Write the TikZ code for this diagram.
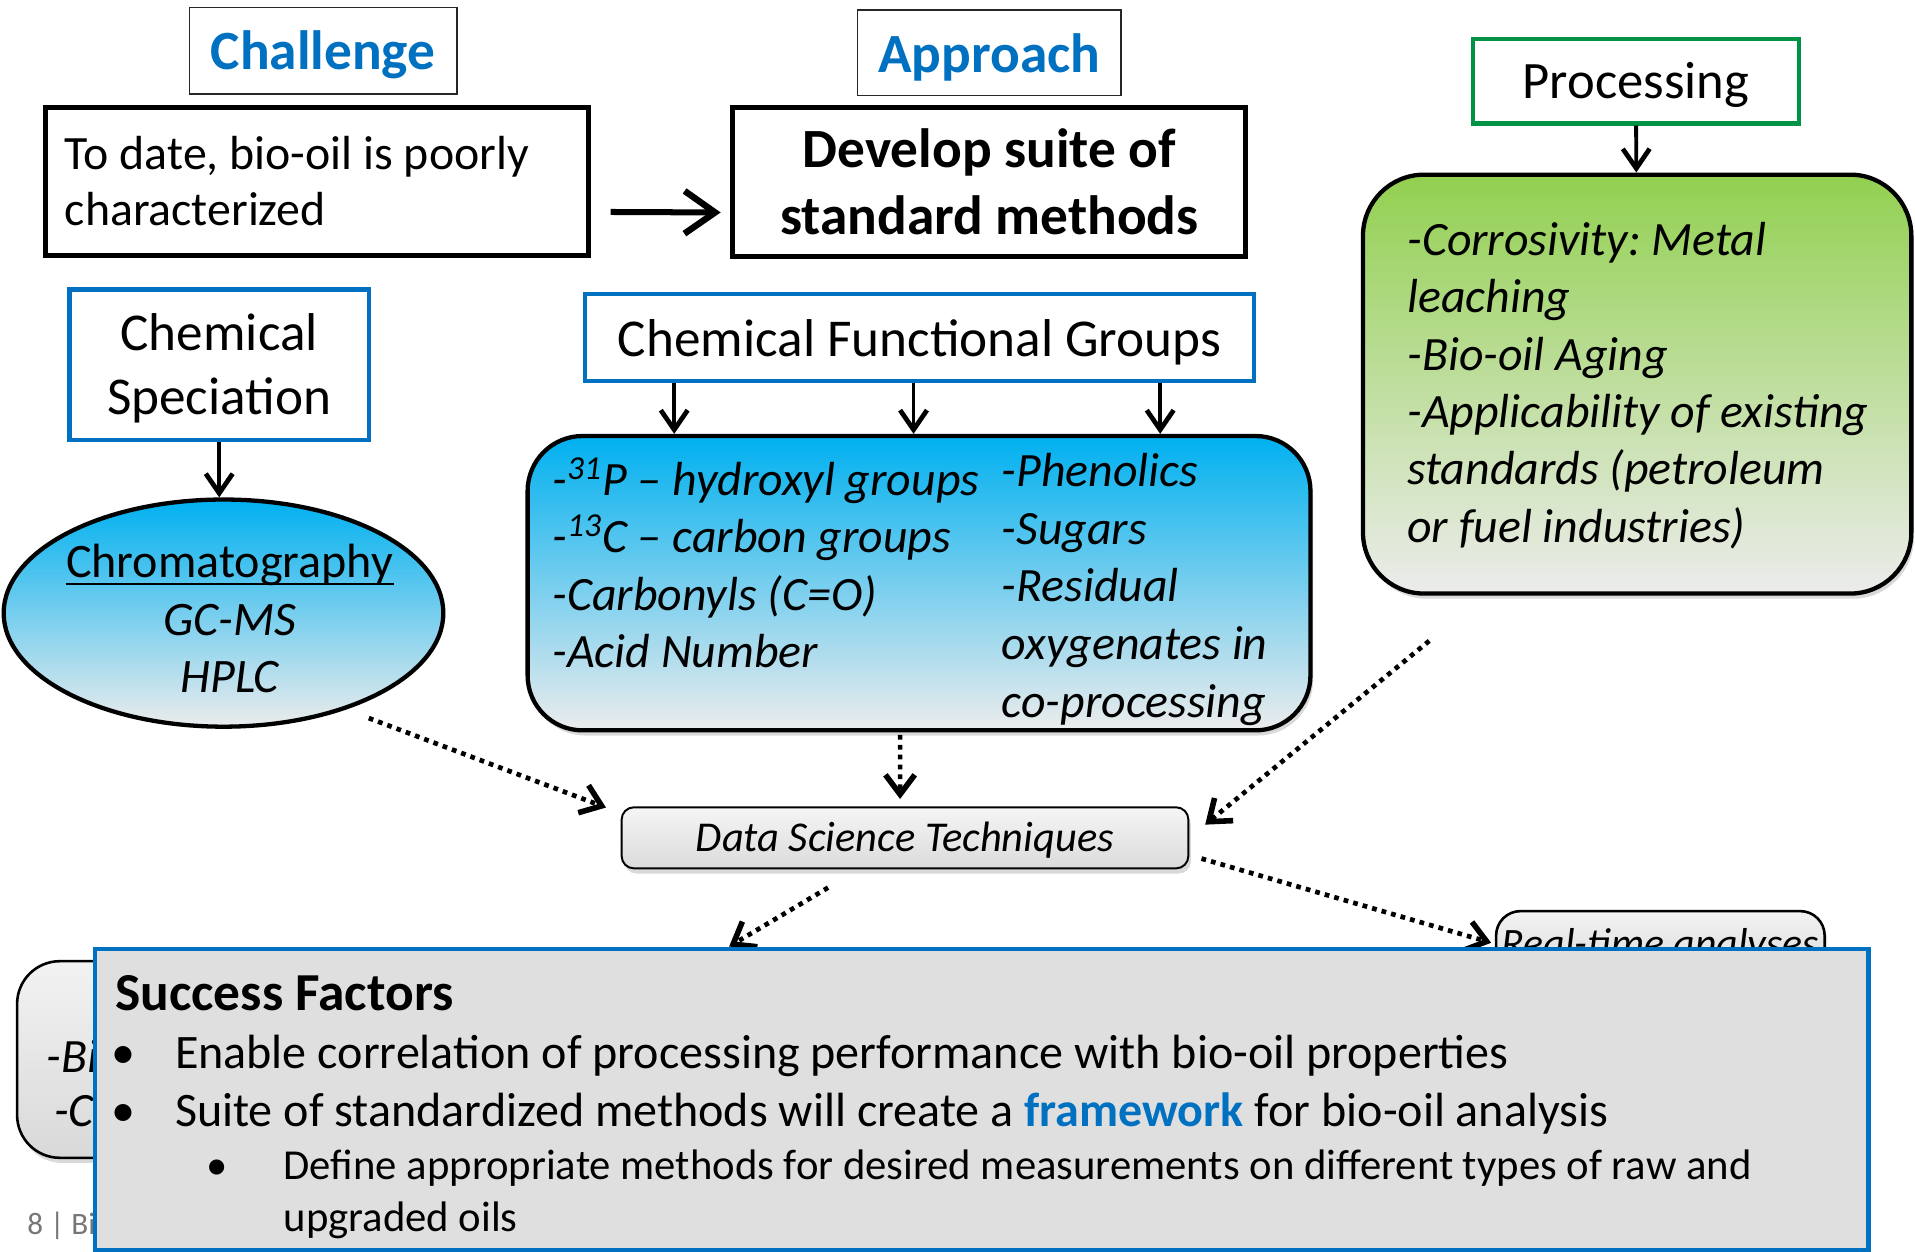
\documentclass[tikz,border=0pt]{standalone}
\usepackage{fontspec}
\setmainfont{Carlito}
\usetikzlibrary{arrows.meta,shapes.geometric,shadows}
\frenchspacing

\definecolor{hdblue}{RGB}{0,112,192}
\definecolor{procgreen}{RGB}{0,146,69}
\definecolor{skyblue}{RGB}{0,176,240}
\definecolor{leafgreen}{RGB}{146,208,80}
\definecolor{paleend}{RGB}{236,236,236}
\definecolor{sfgray}{RGB}{223,223,223}
\definecolor{footgray}{RGB}{118,118,118}

\tikzset{
  boxsize/.style 2 args={minimum width=#1*0.02cm, minimum height=#2*0.02cm, inner sep=0pt},
  headbox/.style={draw=black!85, line width=0.7pt, text=hdblue, text height=0.63cm, text depth=0pt,
    font=\fontsize{25.8}{30}\selectfont\bfseries},
  blackbox/.style={draw, line width=2.2pt},
  bluebox/.style={draw=hdblue, line width=2pt, align=center,
    font=\fontsize{24.8}{29.5}\selectfont},
  softshadow/.style={drop shadow={opacity=0.3, shadow xshift=1.2pt, shadow yshift=-2.4pt}},
  roundbox/.style={draw, line width=2pt, rounded corners=#1, softshadow},
  greybox/.style={roundbox=#1, line width=1.2pt, top color=gray!10, bottom color=gray!30},
  listline/.style={anchor=base west, inner sep=0pt, font=\fontsize{22.3}{26}\selectfont\itshape},
  sfline/.style={anchor=base west, inner sep=0pt, font=\fontsize{#1}{26}\selectfont},
  smallarr/.style={-{Straight Barb[length=0.32cm,width=0.44cm,line width=2.2pt]}, line width=1.8pt},
  bigarr/.style={-{Straight Barb[length=0.5cm,width=0.7cm,line width=3pt]}, line width=2.8pt},
  dotarr/.style={-{Straight Barb[length=0.32cm,width=0.48cm,line width=2.6pt]}, line width=2.2pt,
    dash pattern=on 2.2pt off 2.4pt},
}

\begin{document}
\begin{tikzpicture}[x=0.02cm, y=-0.02cm]
\useasboundingbox (0,0) rectangle (1568,1025);

% challenge and approach
\node[headbox, boxsize={219}{71}] (chal) at (264.5,41.5) {Challenge};
\node[headbox, boxsize={216}{70}, text height=0.66cm] (appr) at (810,43) {Approach};
\node[blackbox, boxsize={445}{121}, inner xsep=0.32cm, text width=8.26cm, align=flush left,
  font=\fontsize{22.3}{26}\selectfont] (todate) at (259.5,148.5)
  {To date, bio-oil is poorly\\characterized};
\node[blackbox, boxsize={420}{122}, align=center,
  font=\fontsize{25.8}{31.2}\selectfont\bfseries] (dev) at (810,149)
  {Develop suite of\\standard methods};
\draw[bigarr, shorten <=0.32cm, shorten >=0.16cm]
  ([yshift=-0.5cm]todate.east) -- ([yshift=-0.5cm]dev.west);

% processing
\node[draw=procgreen, line width=2pt, boxsize={267}{69}, text height=0.58cm, text depth=0pt,
  font=\fontsize{24.5}{29}\selectfont] (proc) at (1339.5,66.5) {Processing};
\node[roundbox=1cm, boxsize={449}{343}, top color=leafgreen, bottom color=paleend]
  (procbox) at (1340.5,314.5) {};
\foreach \entry [count=\i] in {{-Corrosivity: Metal},{leaching},{-Bio-oil Aging},
    {-Applicability of existing},{standards (petroleum},{or fuel industries)}}
  \node[listline] (pl\i) at (1152,{209+47*(\i-1)}) {\entry};
\draw[smallarr] (proc) -- (procbox);

% chemical speciation
\node[draw=hdblue, line width=2pt, boxsize={245}{123}] (cs) at (179.5,298.5) {};
\node[bluebox, draw=none, inner sep=0pt] (cstext) at (179.5,301.5) {Chemical\\Speciation};
\node[ellipse, draw, line width=2pt, boxsize={360}{186}, top color=skyblue,
  bottom color=paleend] (chrom) at (183,502) {};
\node[anchor=base, inner sep=0pt, font=\fontsize{22.4}{26}\selectfont] (chr1) at (188,473) {Chromatography};
\draw[line width=0.9pt] ([yshift=-0.1cm]chr1.base west) -- ([yshift=-0.1cm]chr1.base east);
\node[anchor=base, inner sep=0pt, font=\fontsize{22.4}{26}\selectfont\itshape] (chr2) at (188,520) {GC-MS};
\node[anchor=base, inner sep=0pt, font=\fontsize{22.4}{26}\selectfont\itshape] (chr3) at (188,567) {HPLC};
\draw[smallarr] (cs) -- (cs |- chrom.north);

% functional groups
\node[bluebox, boxsize={548}{71}, text height=0.62cm, text depth=0pt] (cfg) at (753,276.5)
  {Chemical Functional Groups};
\node[roundbox=0.9cm, boxsize={641}{241}, top color=skyblue, bottom color=paleend]
  (fg) at (752.5,477.5) {};
\foreach \entry [count=\i] in {{-\textsuperscript{31}P -- hydroxyl groups},
    {-\textsuperscript{13}C -- carbon groups},{-Carbonyls (C=O)},{-Acid Number}}
  \node[listline] (fl\i) at (452,{405.5+47*(\i-1)}) {\entry};
\foreach \entry [count=\i] in {{-Phenolics},{-Sugars},{-Residual},{oxygenates in},{co-processing}}
  \node[listline] (fr\i) at (820,{398.5+47.2*(\i-1)}) {\entry};
\foreach \dx in {-4.02,-0.1,3.94}
  \draw[smallarr] ([xshift=\dx cm]cfg.south) -- ([xshift=\dx cm]cfg.south |- fg.north);

% data science
\node[roundbox=0.2cm, line width=0.9pt, boxsize={464}{50}, top color=gray!8,
  bottom color=gray!28, text height=0.46cm, text depth=0pt,
  font=\fontsize{19.8}{23}\selectfont\itshape] (dst) at (741,686)
  {Data Science Techniques};
\node[greybox=0.7cm, boxsize={316}{161}] (leftbox) at (172,867.5) {};
\node[listline] (lb1) at (38,878) {-Bi};
\node[listline] (lb2) at (44,922) {-C};
\node[greybox=0.4cm, boxsize={269}{58}, font=\fontsize{19.5}{23}\selectfont\itshape]
  (rta) at (1359.5,775) {Real-time analyses};
\node[anchor=base west, inner sep=0pt, text=footgray, font=\fontsize{14.5}{17}\selectfont]
  (foot) at (22,1011) {8 | Bi};
\coordinate (lowmid) at (597,775);

\draw[dotarr] ([xshift=2.38cm,yshift=-1.72cm]chrom.center) -- ([xshift=-0.24cm,yshift=-0.02cm]dst.north west);
\draw[dotarr] ([xshift=-0.31cm,yshift=-0.04cm]fg.south) -- ([xshift=-0.08cm,yshift=0.12cm]dst.north);
\draw[dotarr] ([xshift=1.12cm,yshift=-0.74cm]procbox.south west) -- ([xshift=0.26cm,yshift=-0.3cm]dst.north east);
\draw[dotarr] ([xshift=-1.26cm,yshift=-0.3cm]dst.south) -- (lowmid);
\draw[dotarr] ([xshift=0.2cm,yshift=-0.34cm]dst.east) -- ([xshift=-0.06cm,yshift=-0.54cm]rta.north west);

% success factors
\node[draw=hdblue, line width=2pt, fill=sfgray, boxsize={1452}{247}] (sf) at (804,900.5) {};
\node[anchor=base west, inner sep=0pt, font=\fontsize{24.9}{29}\selectfont\bfseries]
  (sft) at (94,827) {Success Factors};
\node[sfline=22.4] (sf1) at (91,875)
  {\makebox[1.04cm][l]{\textbullet}Enable correlation of processing performance with bio-oil properties};
\node[sfline=22.4] (sf2) at (91,922)
  {\makebox[1.04cm][l]{\textbullet}Suite of standardized methods will create a
   \textcolor{hdblue}{\bfseries framework} for bio-oil analysis};
\node[sfline=19.9] (sf3) at (169,966)
  {\makebox[1.26cm][l]{\textbullet}Define appropriate methods for desired measurements on different types of raw and};
\node[sfline=19.9] (sf4) at (232,1008) {upgraded oils};
\end{tikzpicture}
\end{document}
